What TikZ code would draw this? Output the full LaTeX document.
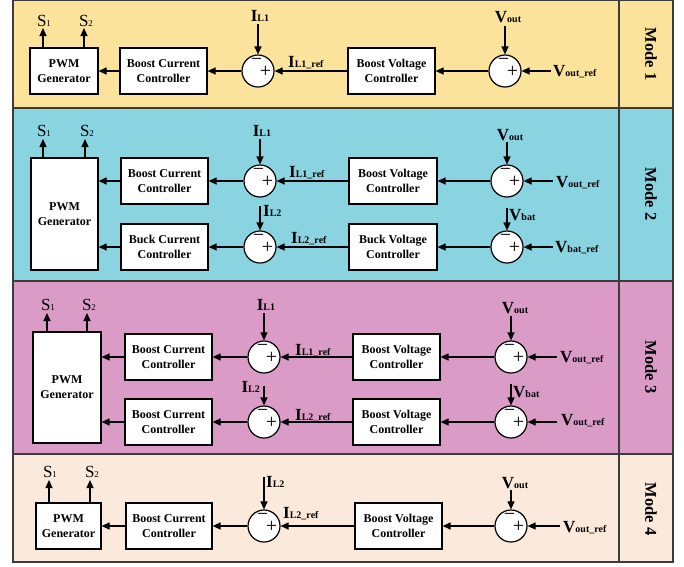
\documentclass[tikz,border=0pt]{standalone}
\usepackage{fontspec}
\setmainfont{Liberation Serif}
\usetikzlibrary{arrows.meta}
\definecolor{mAcol}{HTML}{FBE39B}
\definecolor{mBcol}{HTML}{8AD3E1}
\definecolor{mCcol}{HTML}{DA9BC7}
\definecolor{mDcol}{HTML}{FBEADB}
\definecolor{framegray}{HTML}{3C3C3C}
\newcommand\VL[2]{{\fontsize{17}{17}\selectfont\bfseries #1}{\fontsize{10}{10}\selectfont\bfseries #2}}
\newcommand\SL[1]{{\fontsize{17}{17}\selectfont S}{\fontsize{9}{9}\selectfont #1}}
\newcommand\sgn[1]{\path (#1.center) ++(-1.5,-9) node[signtxt] (#1m) {−} (#1.center) ++(7.5,1) node[signtxt] (#1p) {+};}
\begin{document}
\begin{tikzpicture}[x=1pt,y=-1pt,
  blk/.style={draw, line width=1.2pt, fill=white, inner sep=0pt, align=center,
    font=\fontsize{12}{15}\selectfont\bfseries},
  sumc/.style={draw, circle, line width=1.2pt, fill=white, minimum size=32pt, inner sep=0pt},
  signtxt/.style={inner sep=0pt, font=\fontsize{20}{20}\selectfont},
  sig/.style={-{Triangle[length=8pt,width=7pt]}, line width=1.2pt},
  lbl/.style={inner sep=0pt},
  frm/.style={draw=framegray, line width=1.2pt},
  modelbl/.style={rotate=-90, inner sep=0pt, font=\fontsize{16.5}{16.5}\selectfont\bfseries}
]
\useasboundingbox (0,0) rectangle (684,566);
% bands
\fill[mAcol] (13,0.6) rectangle (673,108);
\fill[mBcol] (13,108) rectangle (673,281);
\fill[mCcol] (13,281) rectangle (673,454);
\fill[mDcol] (13,454) rectangle (673,562);
\draw[frm] (13,0.6) rectangle (673,562);
\draw[frm] (13,108) -- (673,108);
\draw[frm] (13,281) -- (673,281);
\draw[frm] (13,454) -- (673,454);
\draw[frm] (619,0.6) -- (619,562);

% ================= Mode 1
\node[blk, minimum width=68pt, minimum height=46pt] (m1pwm) at (64,71) {PWM\\Generator};
\node[blk, minimum width=87pt, minimum height=46pt] (m1bcc) at (163.5,71) {Boost Current\\Controller};
\node[sumc] (m1ca) at (258,71) {}; \sgn{m1ca}
\node[blk, minimum width=87pt, minimum height=46pt] (m1bvc) at (391.5,71) {Boost Voltage\\Controller};
\node[sumc] (m1cb) at (505,71) {}; \sgn{m1cb}
\coordinate (m1s1) at (43,28); \coordinate (m1s2) at (84,28);
\draw[sig] (m1s1 |- m1pwm.north) -- (m1s1);
\draw[sig] (m1s2 |- m1pwm.north) -- (m1s2);
\node[lbl, anchor=base] (m1s1l) at (44,26) {\SL{1}};
\node[lbl, anchor=base] (m1s2l) at (86,26) {\SL{2}};
\coordinate (m1ia) at (258,24); \draw[sig] (m1ia) -- (m1ca.north);
\node[lbl, anchor=base] (m1ial) at (260,21) {\VL{I}{L1}};
\coordinate (m1va) at (505,26); \draw[sig] (m1va) -- (m1cb.north);
\node[lbl, anchor=base] (m1val) at (508,22) {\VL{V}{out}};
\coordinate (m1vr) at (551,71); \draw[sig] (m1vr) -- (m1cb.east);
\node[lbl, anchor=base west] (m1vrl) at (553,76) {\VL{V}{out\_ref}};
\draw[sig] (m1cb.west) -- (m1bvc.east);
\draw[sig] (m1bvc.west) -- (m1ca.east);
\node[lbl, anchor=base west] (m1irl) at (288,67) {\VL{I}{L1\_ref}};
\draw[sig] (m1ca.west) -- (m1bcc.east);
\draw[sig] (m1bcc.west) -- (m1pwm.east);
\node[modelbl] (m1lab) at (651,54) {Mode 1};

% ================= Mode 2
\node[blk, minimum width=67pt, minimum height=112pt] (m2pwm) at (64.5,214) {PWM\\Generator};
\node[blk, minimum width=87pt, minimum height=46pt] (m2bcc) at (164.5,181) {Boost Current\\Controller};
\node[blk, minimum width=87pt, minimum height=46pt] (m2kcc) at (164.5,247) {Buck Current\\Controller};
\node[sumc] (m2ca) at (260,181) {}; \sgn{m2ca}
\node[sumc] (m2cc) at (260,247) {}; \sgn{m2cc}
\node[blk, minimum width=88pt, minimum height=46pt] (m2bvc) at (393,181) {Boost Voltage\\Controller};
\node[blk, minimum width=88pt, minimum height=46pt] (m2kvc) at (393,247) {Buck Voltage\\Controller};
\node[sumc] (m2cb) at (507,181) {}; \sgn{m2cb}
\node[sumc] (m2cd) at (507,247) {}; \sgn{m2cd}
\coordinate (m2s1) at (43,139); \coordinate (m2s2) at (85,139);
\draw[sig] (m2s1 |- m2pwm.north) -- (m2s1);
\draw[sig] (m2s2 |- m2pwm.north) -- (m2s2);
\node[lbl, anchor=base] (m2s1l) at (44,136) {\SL{1}};
\node[lbl, anchor=base] (m2s2l) at (87,136) {\SL{2}};
\coordinate (m2ia) at (260,139); \draw[sig] (m2ia) -- (m2ca.north);
\node[lbl, anchor=base] (m2ial) at (262,136) {\VL{I}{L1}};
\coordinate (m2ic) at (260,206); \draw[sig] (m2ic) -- (m2cc.north);
\node[lbl, anchor=base west] (m2icl) at (263,216) {\VL{I}{L2}};
\coordinate (m2va) at (507,142); \draw[sig] (m2va) -- (m2cb.north);
\node[lbl, anchor=base] (m2val) at (510,140) {\VL{V}{out}};
\coordinate (m2vc) at (507,208); \draw[sig] (m2vc) -- (m2cd.north);
\node[lbl, anchor=base west] (m2vcl) at (509,220) {\VL{V}{bat}};
\coordinate (m2vr) at (553,181); \draw[sig] (m2vr) -- (m2cb.east);
\node[lbl, anchor=base west] (m2vrl) at (556,187) {\VL{V}{out\_ref}};
\coordinate (m2vs) at (553,247); \draw[sig] (m2vs) -- (m2cd.east);
\node[lbl, anchor=base west] (m2vsl) at (555,252) {\VL{V}{bat\_ref}};
\draw[sig] (m2cb.west) -- (m2bvc.east);
\draw[sig] (m2cd.west) -- (m2kvc.east);
\draw[sig] (m2bvc.west) -- (m2ca.east);
\draw[sig] (m2kvc.west) -- (m2cc.east);
\node[lbl, anchor=base west] (m2irl) at (289,177) {\VL{I}{L1\_ref}};
\node[lbl, anchor=base west] (m2isl) at (291,243) {\VL{I}{L2\_ref}};
\draw[sig] (m2ca.west) -- (m2bcc.east);
\draw[sig] (m2cc.west) -- (m2kcc.east);
\draw[sig] (m2bcc.west) -- (m2bcc.west -| m2pwm.east);
\draw[sig] (m2kcc.west) -- (m2kcc.west -| m2pwm.east);
\node[modelbl] (m2lab) at (651,194) {Mode 2};

% ================= Mode 3
\node[blk, minimum width=68pt, minimum height=111pt] (m3pwm) at (67,387.5) {PWM\\Generator};
\node[blk, minimum width=87pt, minimum height=46pt] (m3bcc) at (168.5,357) {Boost Current\\Controller};
\node[blk, minimum width=87pt, minimum height=46pt] (m3dcc) at (168.5,422) {Boost Current\\Controller};
\node[sumc] (m3ca) at (264,357) {}; \sgn{m3ca}
\node[sumc] (m3cc) at (264,422) {}; \sgn{m3cc}
\node[blk, minimum width=87pt, minimum height=46pt] (m3bvc) at (396.5,357) {Boost Voltage\\Controller};
\node[blk, minimum width=87pt, minimum height=46pt] (m3dvc) at (396.5,422) {Boost Voltage\\Controller};
\node[sumc] (m3cb) at (511,357) {}; \sgn{m3cb}
\node[sumc] (m3cd) at (511,422) {}; \sgn{m3cd}
\coordinate (m3s1) at (47,313); \coordinate (m3s2) at (87,313);
\draw[sig] (m3s1 |- m3pwm.north) -- (m3s1);
\draw[sig] (m3s2 |- m3pwm.north) -- (m3s2);
\node[lbl, anchor=base] (m3s1l) at (48,310) {\SL{1}};
\node[lbl, anchor=base] (m3s2l) at (89,310) {\SL{2}};
\coordinate (m3ia) at (264,313); \draw[sig] (m3ia) -- (m3ca.north);
\node[lbl, anchor=base] (m3ial) at (266,310) {\VL{I}{L1}};
\coordinate (m3ic) at (264,386); \draw[sig] (m3ic) -- (m3cc.north);
\node[lbl, anchor=base east] (m3icl) at (260,392) {\VL{I}{L2}};
\coordinate (m3va) at (511,316); \draw[sig] (m3va) -- (m3cb.north);
\node[lbl, anchor=base] (m3val) at (515,313) {\VL{V}{out}};
\coordinate (m3vc) at (511,384); \draw[sig] (m3vc) -- (m3cd.north);
\node[lbl, anchor=base west] (m3vcl) at (513,397) {\VL{V}{bat}};
\coordinate (m3vr) at (557,357); \draw[sig] (m3vr) -- (m3cb.east);
\node[lbl, anchor=base west] (m3vrl) at (560,362) {\VL{V}{out\_ref}};
\coordinate (m3vs) at (557,422); \draw[sig] (m3vs) -- (m3cd.east);
\node[lbl, anchor=base west] (m3vsl) at (561,425) {\VL{V}{out\_ref}};
\draw[sig] (m3cb.west) -- (m3bvc.east);
\draw[sig] (m3cd.west) -- (m3dvc.east);
\draw[sig] (m3bvc.west) -- (m3ca.east);
\draw[sig] (m3dvc.west) -- (m3cc.east);
\node[lbl, anchor=base west] (m3irl) at (295,355) {\VL{I}{L1\_ref}};
\node[lbl, anchor=base west] (m3isl) at (295,420) {\VL{I}{L2\_ref}};
\draw[sig] (m3ca.west) -- (m3bcc.east);
\draw[sig] (m3cc.west) -- (m3dcc.east);
\draw[sig] (m3bcc.west) -- (m3bcc.west -| m3pwm.east);
\draw[sig] (m3dcc.west) -- (m3dcc.west -| m3pwm.east);
\node[modelbl] (m3lab) at (651,367) {Mode 3};

% ================= Mode 4
\node[blk, minimum width=65pt, minimum height=46pt] (m4pwm) at (68.5,526) {PWM\\Generator};
\node[blk, minimum width=86pt, minimum height=46pt] (m4bcc) at (169,526) {Boost Current\\Controller};
\node[sumc] (m4ca) at (264,526) {}; \sgn{m4ca}
\node[blk, minimum width=87pt, minimum height=46pt] (m4bvc) at (398.5,526) {Boost Voltage\\Controller};
\node[sumc] (m4cb) at (511,526) {}; \sgn{m4cb}
\coordinate (m4s1) at (49,480); \coordinate (m4s2) at (90,480);
\draw[sig] (m4s1 |- m4pwm.north) -- (m4s1);
\draw[sig] (m4s2 |- m4pwm.north) -- (m4s2);
\node[lbl, anchor=base] (m4s1l) at (50,477) {\SL{1}};
\node[lbl, anchor=base] (m4s2l) at (92,477) {\SL{2}};
\coordinate (m4ia) at (264,477); \draw[sig] (m4ia) -- (m4ca.north);
\node[lbl, anchor=base west] (m4ial) at (266,487) {\VL{I}{L2}};
\coordinate (m4va) at (511,490); \draw[sig] (m4va) -- (m4cb.north);
\node[lbl, anchor=base] (m4val) at (515,488) {\VL{V}{out}};
\coordinate (m4vr) at (560,526); \draw[sig] (m4vr) -- (m4cb.east);
\node[lbl, anchor=base west] (m4vrl) at (563,532) {\VL{V}{out\_ref}};
\draw[sig] (m4cb.west) -- (m4bvc.east);
\draw[sig] (m4bvc.west) -- (m4ca.east);
\node[lbl, anchor=base west] (m4irl) at (283,518) {\VL{I}{L2\_ref}};
\draw[sig] (m4ca.west) -- (m4bcc.east);
\draw[sig] (m4bcc.west) -- (m4pwm.east);
\node[modelbl] (m4lab) at (651,509) {Mode 4};
\end{tikzpicture}
\end{document}
